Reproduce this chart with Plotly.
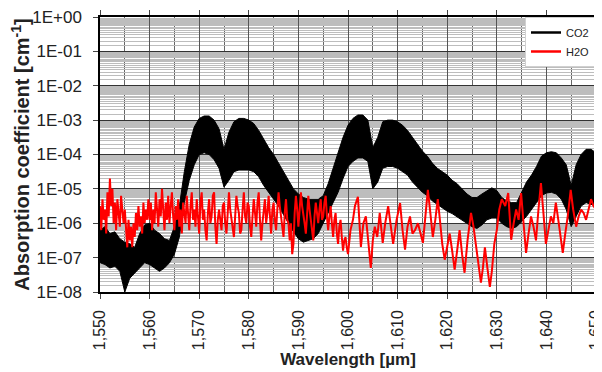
import plotly.graph_objects as go

# ---------------- data ----------------
x_ticks = [1.55, 1.56, 1.57, 1.58, 1.59, 1.60, 1.61, 1.62, 1.63, 1.64, 1.65]
x_ticklabels = ["1,550", "1,560", "1,570", "1,580", "1,590", "1,600",
                "1,610", "1,620", "1,630", "1,640", "1,650"]
x_minor = [1.555, 1.565, 1.575, 1.585, 1.595, 1.605, 1.615, 1.625, 1.635, 1.645]

y_ticks = [1e-8, 1e-7, 1e-6, 1e-5, 1e-4, 1e-3, 1e-2, 1e-1, 1e0]
y_ticklabels = ["1E-08", "1E-07", "1E-06", "1E-05", "1E-04",
                "1E-03", "1E-02", "1E-01", "1E+00"]

# CO2: dense line spectrum, given as upper / lower envelope (log10 of cm^-1)
co2_wl = [1.550, 1.551, 1.552, 1.553, 1.554, 1.555, 1.556, 1.557, 1.558, 1.559,
          1.560, 1.561, 1.562, 1.563, 1.564, 1.565, 1.566, 1.567, 1.568, 1.569,
          1.570, 1.571, 1.572, 1.573, 1.574, 1.575, 1.576, 1.577, 1.578, 1.579,
          1.580, 1.581, 1.582, 1.583, 1.584, 1.585, 1.586, 1.587, 1.588, 1.589,
          1.590, 1.591, 1.592, 1.593, 1.594, 1.595, 1.596, 1.597, 1.598, 1.599,
          1.600, 1.601, 1.602, 1.603, 1.604, 1.605, 1.606, 1.607, 1.608, 1.609,
          1.610, 1.611, 1.612, 1.613, 1.614, 1.615, 1.616, 1.617, 1.618, 1.619,
          1.620, 1.621, 1.622, 1.623, 1.624, 1.625, 1.626, 1.627, 1.628, 1.629,
          1.630, 1.631, 1.632, 1.633, 1.634, 1.635, 1.636, 1.637, 1.638, 1.639,
          1.640, 1.641, 1.642, 1.643, 1.644, 1.645, 1.646, 1.647, 1.648, 1.649,
          1.650]
co2_upper_log = [-6.2, -6.1, -6.3, -6.25, -6.45, -6.55, -6.6, -6.7, -6.3, -6.05,
                 -6.0, -6.2, -6.3, -6.45, -6.5, -6.1, -5.5, -4.5, -3.7, -3.2,
                 -2.95, -2.88, -2.88, -3.0, -3.25, -3.85, -3.35, -3.05, -2.95, -2.95,
                 -3.0, -3.1, -3.3, -3.55, -3.8, -4.0, -4.25, -4.5, -4.75, -5.0,
                 -5.15, -5.25, -5.3, -5.3, -5.3, -5.2, -4.85, -4.4, -3.95, -3.5,
                 -3.15, -2.95, -2.85, -2.85, -3.0, -3.8, -3.5, -3.05, -3.0, -3.0,
                 -3.05, -3.15, -3.3, -3.5, -3.7, -3.9, -4.05, -4.25, -4.4, -4.5,
                 -4.6, -4.75, -4.85, -5.0, -5.15, -5.25, -5.25, -5.15, -5.05, -4.97,
                 -5.05, -5.25, -5.35, -5.4, -5.4, -5.1, -4.8, -4.6, -4.35, -4.05,
                 -3.95, -3.92, -3.95, -4.1, -4.3, -4.9, -4.3, -4.0, -3.85, -3.85,
                 -3.95]
co2_lower_log = [-7.15, -7.2, -7.3, -7.25, -7.4, -8.0, -7.6, -7.45, -7.3, -7.15,
                 -7.2, -7.3, -7.4, -7.3, -7.15, -6.9, -6.4, -5.4, -4.75, -4.3,
                 -4.0, -3.95, -4.0, -4.15, -4.4, -4.95, -4.75, -4.5, -4.45, -4.45,
                 -4.45, -4.5, -4.65, -4.9, -5.1, -5.3, -5.5, -5.75, -6.0, -6.25,
                 -6.45, -6.55, -6.5, -6.45, -6.3, -6.0, -5.7, -5.4, -5.1, -4.7,
                 -4.35, -4.2, -4.1, -4.1, -4.2, -5.0, -4.8, -4.4, -4.35, -4.35,
                 -4.4, -4.5, -4.6, -4.8, -4.95, -5.1, -5.2, -5.35, -5.45, -5.55,
                 -5.65, -5.72, -5.8, -5.9, -6.0, -6.1, -6.15, -6.05, -5.9, -5.85,
                 -5.85, -6.0, -6.1, -6.15, -6.1, -5.95, -5.8, -5.6, -5.4, -5.2,
                 -5.12, -5.1, -5.15, -5.3, -5.6, -6.1, -5.8, -5.5, -5.4, -5.45,
                 -5.5]

# H2O: line spectrum (log10 of cm^-1)
h2o_wl = [
    1.55000, 1.55025, 1.55050, 1.55075, 1.55100, 1.55125, 1.55150, 1.55175, 1.55200, 1.55225,
    1.55250, 1.55275, 1.55300, 1.55325, 1.55350, 1.55375, 1.55400, 1.55425, 1.55450, 1.55475,
    1.55500, 1.55525, 1.55550, 1.55575, 1.55600, 1.55625, 1.55650, 1.55675, 1.55700, 1.55725,
    1.55750, 1.55775, 1.55800, 1.55825, 1.55850, 1.55875, 1.55900, 1.55925, 1.55950, 1.55975,
    1.56000, 1.56025, 1.56050, 1.56075, 1.56100, 1.56125, 1.56150, 1.56175, 1.56200, 1.56225,
    1.56250, 1.56275, 1.56300, 1.56325, 1.56350, 1.56375, 1.56400, 1.56425, 1.56450, 1.56475,
    1.56500, 1.56525, 1.56550, 1.56575, 1.56600, 1.56625, 1.56650, 1.56675, 1.56700, 1.56725,
    1.56750, 1.56775, 1.56800, 1.56825, 1.56850, 1.56875, 1.56900, 1.56925, 1.56950, 1.56975,
    1.57000, 1.57025, 1.57050, 1.57075, 1.57100, 1.57125, 1.57150, 1.57175, 1.57200, 1.57225,
    1.57250, 1.57275, 1.57300, 1.57325, 1.57350, 1.57375, 1.57400, 1.57425, 1.57450, 1.57475,
    1.57500, 1.57525, 1.57550, 1.57575, 1.57600, 1.57625, 1.57650, 1.57675, 1.57700, 1.57725,
    1.57750, 1.57775, 1.57800, 1.57825, 1.57850, 1.57875, 1.57900, 1.57925, 1.57950, 1.57975,
    1.58000, 1.58025, 1.58050, 1.58075, 1.58100, 1.58125, 1.58150, 1.58175, 1.58200, 1.58225,
    1.58250, 1.58275, 1.58300, 1.58325, 1.58350, 1.58375, 1.58400, 1.58425, 1.58450, 1.58475,
    1.58500, 1.58525, 1.58550, 1.58575, 1.58600, 1.58625, 1.58650, 1.58675, 1.58700, 1.58725,
    1.58750, 1.58775, 1.58800, 1.58825, 1.58850, 1.58875, 1.58900, 1.58925, 1.58950, 1.58975,
    1.59000, 1.59025, 1.59050, 1.59075, 1.59100, 1.59125, 1.59150, 1.59175, 1.59200, 1.59225,
    1.59250, 1.59275, 1.59300, 1.59325, 1.59350, 1.59375, 1.59400, 1.59425, 1.59450, 1.59475,
    1.59500, 1.59525, 1.59550, 1.59575, 1.59600, 1.59625, 1.59650, 1.59675, 1.59700, 1.59725,
    1.59750, 1.59775, 1.59800, 1.59825, 1.59850, 1.59875, 1.59900, 1.59925, 1.59950, 1.59975,
    1.6000, 1.6005, 1.6010, 1.6014, 1.6020, 1.6026, 1.6031, 1.6036, 1.6041, 1.6046,
    1.6050, 1.6054, 1.6059, 1.6064, 1.6070, 1.6075, 1.6081, 1.6086, 1.6091, 1.6098,
    1.6105, 1.6110, 1.6115, 1.6120, 1.6125, 1.6130, 1.6135, 1.6141, 1.6146, 1.6151,
    1.6156, 1.6161, 1.6166, 1.6171, 1.6176, 1.6181, 1.6186, 1.6190, 1.6195, 1.6200,
    1.6205, 1.6210, 1.6215, 1.6220, 1.6225, 1.6230, 1.6235, 1.6241, 1.6248, 1.6253,
    1.6258, 1.6263, 1.6268, 1.6272, 1.6276, 1.6281, 1.6286, 1.6290, 1.6295, 1.6300,
    1.6305, 1.6310, 1.6317, 1.6323, 1.6329, 1.6334, 1.6339, 1.6344, 1.6349, 1.6354,
    1.6359, 1.6364, 1.6369, 1.6374, 1.6379, 1.6384, 1.6389, 1.6394, 1.6399, 1.6404,
    1.6409, 1.6414, 1.6419, 1.6424, 1.6429, 1.6433, 1.6438, 1.6443, 1.6449, 1.6454,
    1.6460, 1.6465, 1.6470, 1.6475, 1.6480, 1.6485, 1.6490, 1.6495, 1.6500]
h2o_log = [
    -5.5, -6.2, -5.3, -5.9, -5.6, -6.3, -5.1, -5.8, -4.7, -5.5, -5.0, -6.0, -5.4, -6.2, -5.3, -5.8, -6.1, -5.2, -5.7, -6.0,
    -5.6, -6.3, -6.7, -5.9, -6.5, -6.1, -6.7, -6.0, -6.4, -5.7, -6.2, -5.5, -6.1, -5.8, -6.3, -5.4, -6.0, -5.6, -5.9, -5.3,
    -5.9, -5.4, -6.2, -5.6, -6.0, -5.1, -5.7, -6.1, -5.3, -5.8, -5.0, -5.6, -6.2, -5.4, -5.9, -5.2, -6.0, -5.5, -5.1, -5.8,
    -6.2, -5.5, -5.9, -5.3, -6.1, -5.6, -6.3, -5.4, -5.8, -6.0, -5.2, -5.7, -6.2, -5.5, -5.1, -5.9, -5.6, -6.1, -5.3, -5.8,
    -6.3, -5.4, -5.1, -5.9, -5.6, -6.2, -6.5, -5.7, -5.3, -6.0, -5.8, -5.2, -5.1, -6.1, -6.6, -5.9, -5.6, -5.9, -6.2, -5.5,
    -5.4, -6.0, -6.3, -5.7, -5.1, -5.6, -5.9, -6.2, -6.4, -5.8, -5.2, -5.5, -5.7, -6.3, -6.2, -5.6, -5.1, -5.8, -6.0, -5.4,
    -5.5, -6.1, -6.4, -5.8, -5.3, -5.7, -6.1, -5.4, -5.1, -5.9, -6.5, -6.0, -5.6, -5.3, -6.0, -5.7, -5.2, -5.9, -6.3, -5.6,
    -5.4, -5.9, -6.2, -5.6, -5.1, -5.5, -5.8, -6.2, -6.4, -5.7, -5.3, -5.9, -6.0, -6.5, -6.0, -6.9, -6.6, -5.7, -5.2, -5.6,
    -6.1, -5.6, -5.1, -5.5, -5.7, -6.0, -6.3, -5.6, -5.2, -5.6, -5.9, -6.3, -6.5, -5.8, -5.4, -5.7, -6.0, -5.6, -5.3, -5.9,
    -5.8, -5.4, -5.2, -5.8, -6.2, -5.8, -5.5, -6.0, -6.4, -5.9, -5.7, -6.3, -6.6, -6.1, -5.9, -6.4, -6.8, -6.5, -6.4, -6.7,
    -6.9, -6.2, -5.9, -5.5, -5.23, -6.69, -6.0, -5.8, -6.6, -7.3,
    -6.5, -6.1, -6.4, -5.7, -6.57, -6.0, -5.5, -6.1, -6.6, -5.9,
    -5.41, -6.2, -6.77, -6.1, -5.8, -6.3, -6.2, -6.0, -6.3, -6.57,
    -5.8, -5.03, -5.7, -6.4, -5.9, -5.3, -6.0, -6.6, -7.06, -6.7,
    -6.3, -6.8, -7.35, -6.8, -6.2, -6.9, -7.44, -6.5, -5.7, -6.1,
    -6.6, -7.2, -7.73, -7.3, -6.7, -7.3, -7.85, -7.4, -6.6, -6.2,
    -5.6, -5.3, -5.5, -5.12, -6.48, -6.0, -5.6, -5.9, -5.12, -6.0,
    -6.86, -6.3, -5.8, -6.1, -6.5, -5.6, -4.83, -5.7, -6.6, -6.2,
    -5.8, -6.0, -5.4, -5.9, -6.5, -6.86, -6.3, -5.8, -5.03, -5.6,
    -6.1, -5.8, -5.6, -5.7, -5.9, -5.6, -5.3, -5.5, -5.6]

series_names = ["CO2", "H2O"]
series_colors = ["#000000", "#ff0000"]

# ---------------- figure ----------------
co2_upper = [10 ** v for v in co2_upper_log]
co2_lower = [10 ** v for v in co2_lower_log]
h2o = [10 ** v for v in h2o_log]

y_minor = []
for k in range(-8, 0):
    for m in [1.5, 2, 2.5, 3, 3.5, 4, 4.5, 5, 5.5, 6, 6.5, 7, 7.5, 8, 8.5, 9, 9.5]:
        y_minor.append(m * 10 ** k)

fig = go.Figure()

# CO2 band (dense lines rendered as filled envelope)
fig.add_trace(go.Scatter(
    x=co2_wl + co2_wl[::-1],
    y=co2_upper + co2_lower[::-1],
    fill="toself", fillcolor=series_colors[0],
    line=dict(color=series_colors[0], width=1),
    mode="lines", showlegend=False, hoverinfo="skip"))

# H2O line
fig.add_trace(go.Scatter(
    x=h2o_wl, y=h2o, mode="lines",
    line=dict(color=series_colors[1], width=2),
    showlegend=False))

# legend entries
for name, col in zip(series_names, series_colors):
    fig.add_trace(go.Scatter(x=[None], y=[None], mode="lines", name=name,
                             line=dict(color=col, width=2.5)))

# the page body adds an 8px offset, so the figure is sized to fit the window
fig.update_layout(
    width=594, height=364,
    margin=dict(l=92, r=6, t=9, b=80),
    plot_bgcolor="white", paper_bgcolor="white",
    font=dict(family="Liberation Sans, Arial, sans-serif", color="#222222"),
    legend=dict(x=1, y=1, xanchor="right", yanchor="top",
                bgcolor="white", bordercolor="#d0d0d0", borderwidth=1,
                font=dict(size=11), itemwidth=30, tracegroupgap=0),
)

fig.update_xaxes(
    range=[1.55, 1.65], automargin=False, ticklabeloverflow="allow",
    tickmode="array", tickvals=x_ticks, ticktext=x_ticklabels,
    tickangle=-90, tickfont=dict(size=16), ticklabelstandoff=5,
    showgrid=True, gridcolor="#555555", gridwidth=1,
    minor=dict(tickvals=x_minor, showgrid=True, gridcolor="#666666", gridwidth=1),
    showline=True, linecolor="#000000", linewidth=1.5, mirror="ticks",
    ticks="outside", ticklen=5, tickcolor="#444444",
    zeroline=False,
    title=dict(text="<b>Wavelength [µm]</b>", font=dict(size=17), standoff=3),
)

fig.update_yaxes(
    type="log", range=[-8, 0], automargin=False, ticklabeloverflow="allow",
    tickmode="array", tickvals=y_ticks, ticktext=y_ticklabels,
    tickfont=dict(size=17), ticklabelstandoff=8,
    showgrid=True, gridcolor="#333333", gridwidth=1,
    minor=dict(tickvals=y_minor, showgrid=True, gridcolor="#bdbdbd", gridwidth=1),
    showline=True, linecolor="#000000", linewidth=1.5, mirror="ticks",
    ticks="outside", ticklen=5, tickcolor="#444444",
    zeroline=False,
    title=dict(text="<b>Absorption coefficient [cm<sup>-1</sup>]</b>", font=dict(size=20),
               standoff=4),
)

fig.write_html("out.html")
